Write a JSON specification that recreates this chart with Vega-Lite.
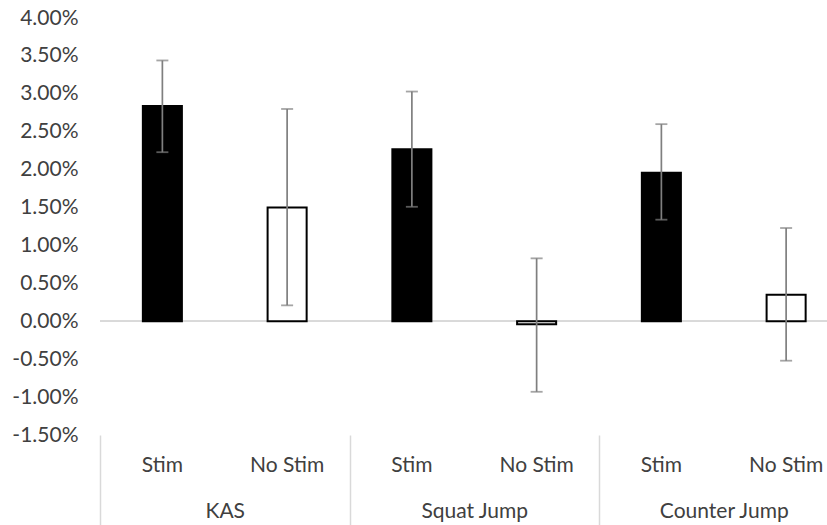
{
  "$schema": "https://vega.github.io/schema/vega-lite/v6.json",
  "autosize": "none",
  "width": 727,
  "height": 417,
  "padding": {"left": 100, "top": 18, "right": 0, "bottom": 90},
  "background": "white",
  "config": {"view": {"stroke": null}, "font": "Lato", "axis": {"labelOverlap": false, "labelBound": false}},
  "data": {
    "values": [
      {"group": "KAS", "cond": "Stim", "bar": "KAS Stim", "value": 0.0284, "lo": 0.0223, "hi": 0.0344},
      {"group": "KAS", "cond": "No Stim", "bar": "KAS No Stim", "value": 0.0150, "lo": 0.0021, "hi": 0.0280},
      {"group": "Squat Jump", "cond": "Stim", "bar": "Squat Jump Stim", "value": 0.0227, "lo": 0.0151, "hi": 0.0303},
      {"group": "Squat Jump", "cond": "No Stim", "bar": "Squat Jump No Stim", "value": -0.0004, "lo": -0.0093, "hi": 0.0083},
      {"group": "Counter Jump", "cond": "Stim", "bar": "Counter Jump Stim", "value": 0.0196, "lo": 0.0134, "hi": 0.0260},
      {"group": "Counter Jump", "cond": "No Stim", "bar": "Counter Jump No Stim", "value": 0.0035, "lo": -0.0052, "hi": 0.0123}
    ]
  },
  "layer": [
    {
      "mark": {"type": "rule", "color": "#d9d9d9", "strokeWidth": 1.3},
      "encoding": {
        "y": {
          "datum": 0, "type": "quantitative",
          "scale": {"domain": [-0.015, 0.04], "nice": false, "zero": false},
          "axis": {
            "title": null, "values": [-0.015, -0.01, -0.005, 0, 0.005, 0.01, 0.015, 0.02, 0.025, 0.03, 0.035, 0.04],
            "tickCount": 30,
            "labelExpr": "replace(format(datum.value, '.2%'), '\u2212', '-')",
            "labelOverlap": false, "labelFlush": false,
            "grid": false, "domain": false, "ticks": false, "labelPadding": 22,
            "labelFont": "Lato", "labelFontSize": 21, "labelColor": "#404040"
          }
        }
      }
    },
    {
      "mark": {"type": "bar", "stroke": "black", "strokeWidth": 2, "clip": true},
      "encoding": {
        "x": {
          "field": "group", "type": "nominal", "sort": null,
          "scale": {"range": [0, 748.5], "paddingInner": 0, "paddingOuter": 0},
          "axis": {
            "title": null, "orient": "bottom", "domain": false,
            "ticks": true, "tickBand": "extent", "tickSize": 90, "tickColor": "#d9d9d9", "tickWidth": 1.5,
            "labelPadding": -25, "labelFont": "Lato", "labelFontSize": 21, "labelColor": "#404040", "labelAngle": 0
          }
        },
        "xOffset": {
          "field": "cond", "type": "nominal", "sort": ["Stim", "No Stim"],
          "scale": {"paddingInner": 0.687, "paddingOuter": 0.3435}
        },
        "y": {"field": "value", "type": "quantitative"},
        "fill": {
          "field": "cond", "type": "nominal",
          "scale": {"domain": ["Stim", "No Stim"], "range": ["black", "white"]},
          "legend": null
        }
      }
    },
    {
      "encoding": {
        "x": {
          "field": "bar", "type": "nominal", "sort": null,
          "scale": {"range": [0, 748.5], "paddingInner": 0.687, "paddingOuter": 0.3435},
          "axis": {
            "title": null, "orient": "bottom", "domain": false, "ticks": false,
            "labelPadding": 19, "labelFont": "Lato", "labelFontSize": 21, "labelColor": "#404040", "labelAngle": 0,
            "labelExpr": "indexof(datum.label, 'No Stim') >= 0 ? 'No Stim' : 'Stim'"
          }
        }
      },
      "layer": [
        {
          "mark": {"type": "rule", "color": "#7f7f7f", "strokeWidth": 1.7},
          "encoding": {
            "y": {"field": "lo", "type": "quantitative"},
            "y2": {"field": "hi"}
          }
        },
        {
          "mark": {"type": "tick", "color": "#7f7f7f", "size": 12, "thickness": 1.8, "orient": "horizontal"},
          "encoding": {"y": {"field": "lo", "type": "quantitative"}}
        },
        {
          "mark": {"type": "tick", "color": "#7f7f7f", "size": 12, "thickness": 1.8, "orient": "horizontal"},
          "encoding": {"y": {"field": "hi", "type": "quantitative"}}
        }
      ]
    }
  ],
  "resolve": {"scale": {"x": "independent", "xOffset": "independent"}, "axis": {"x": "independent"}}
}
